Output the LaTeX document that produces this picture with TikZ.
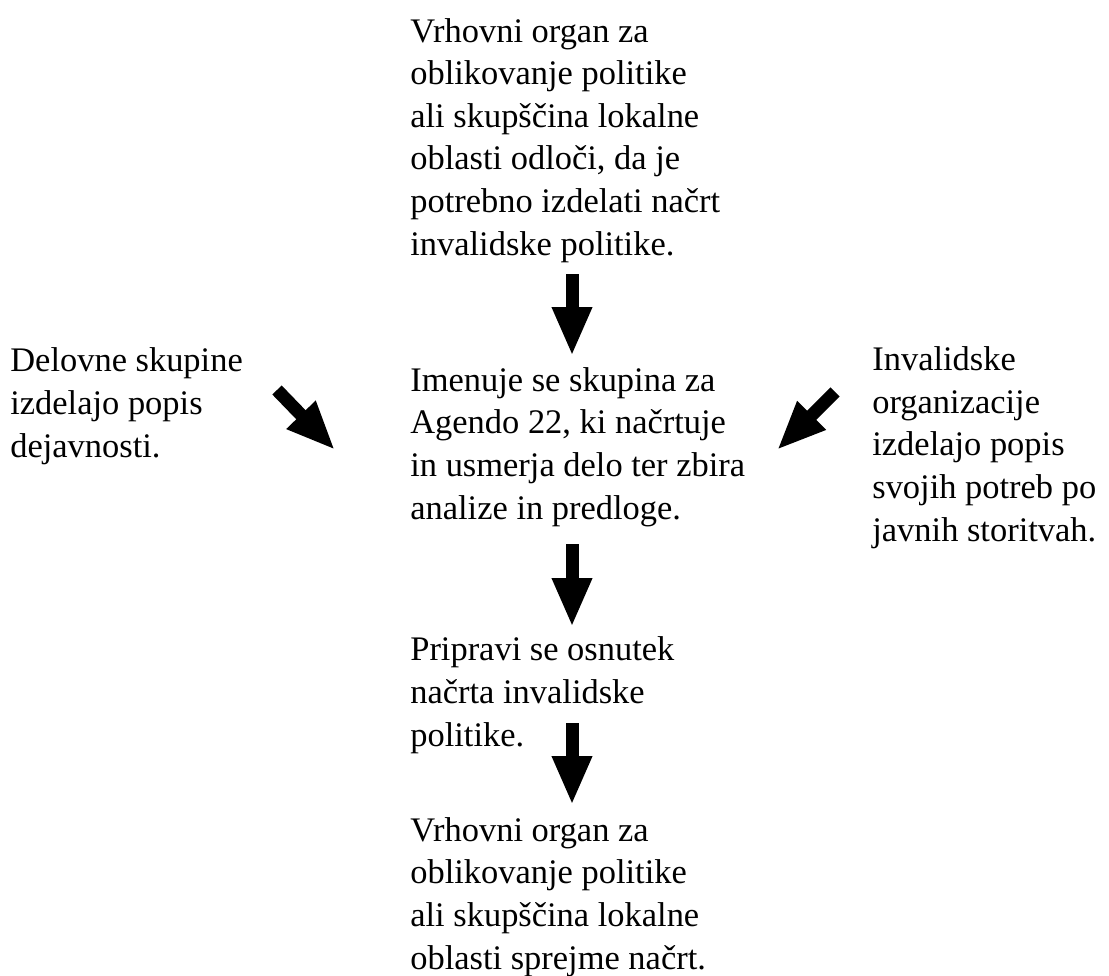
\documentclass[tikz,border=0pt]{standalone}
\usepackage{fontspec}
\setmainfont{Liberation Serif}
\usetikzlibrary{arrows.meta}
\tikzset{
  besedilo/.style={align=left,inner sep=0pt,anchor=base west,font=\fontsize{19.6}{24.2}\selectfont},
  puscica/.style={black,line width=0.26cm,-{Triangle[width=0.74cm,length=0.98cm]}}
}
\begin{document}
\begin{tikzpicture}
        \useasboundingbox (0,0) rectangle (22.18,19.5);
        
        % Besedila (base = zadnja vrstica)
        \node[besedilo] (odlocitev) at (8.2,14.4) {Vrhovni organ za\\oblikovanje politike\\ali skupščina lokalne\\oblasti odloči, da je\\potrebno izdelati načrt\\invalidske politike.};
        \node[besedilo] (skupina) at (8.2,9.12) {Imenuje se skupina za\\Agendo 22, ki načrtuje\\in usmerja delo ter zbira\\analize in predloge.};
        \node[besedilo] (osnutek) at (8.2,4.58) {Pripravi se osnutek\\načrta invalidske\\politike.};
        \node[besedilo] (sprejem) at (8.2,0.12) {Vrhovni organ za\\oblikovanje politike\\ali skupščina lokalne\\oblasti sprejme načrt.};
        \node[besedilo] (delovne) at (0.2,10.36) {Delovne skupine\\izdelajo popis\\dejavnosti.};
        \node[besedilo] (organizacije) at (17.44,8.68) {Invalidske\\organizacije\\izdelajo popis\\svojih potreb po\\javnih storitvah.};
        
        % Konci puscic
        \coordinate (p1a) at (11.44,14.02);
        \coordinate (p1b) at (11.44,12.38);
        \coordinate (p2a) at (11.44,8.62);
        \coordinate (p2b) at (11.44,6.96);
        \coordinate (p3a) at (11.44,5.04);
        \coordinate (p3b) at (11.44,3.4);
        \coordinate (p4a) at (5.54,11.7);
        \coordinate (p4b) at (6.7,10.5);
        \coordinate (p5a) at (16.7,11.66);
        \coordinate (p5b) at (15.54,10.5);
        
        \draw[puscica] (p1a) -- (p1b);
        \draw[puscica] (p2a) -- (p2b);
        \draw[puscica] (p3a) -- (p3b);
        \draw[puscica] (p4a) -- (p4b);
        \draw[puscica] (p5a) -- (p5b);
    \end{tikzpicture}
\end{document}
